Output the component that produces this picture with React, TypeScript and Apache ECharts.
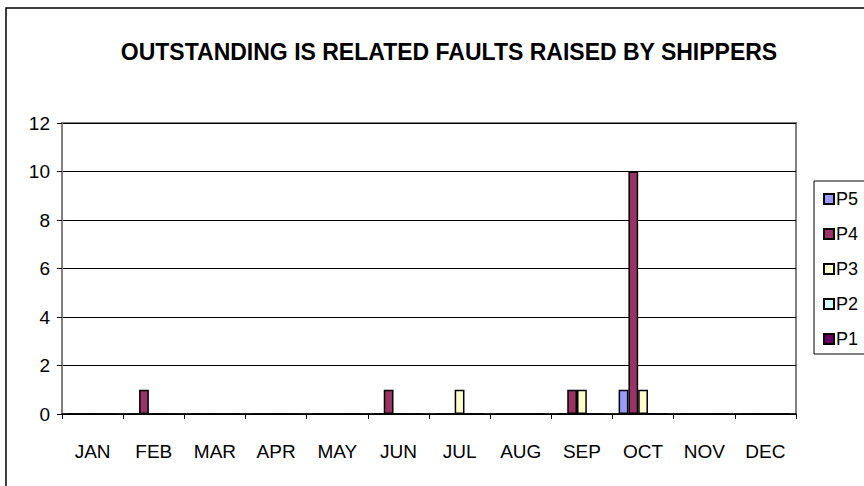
import React, { useEffect, useRef } from "react";
import * as echarts from "echarts";

const months = ["JAN", "FEB", "MAR", "APR", "MAY", "JUN", "JUL", "AUG", "SEP", "OCT", "NOV", "DEC"];
const seriesNames = ["P5", "P4", "P3", "P2", "P1"];
const seriesColors = ["#9999FF", "#993366", "#FFFFCC", "#CCFFFF", "#660066"];
const p5 = [0, 0, 0, 0, 0, 0, 0, 0, 0, 1, 0, 0];
const p4 = [0, 1, 0, 0, 0, 1, 0, 0, 1, 10, 0, 0];
const p3 = [0, 0, 0, 0, 0, 0, 1, 0, 1, 1, 0, 0];
const p2 = [0, 0, 0, 0, 0, 0, 0, 0, 0, 0, 0, 0];
const p1 = [0, 0, 0, 0, 0, 0, 0, 0, 0, 0, 0, 0];
const seriesData = [p5, p4, p3, p2, p1];
const yTicks = { min: 0, max: 12, interval: 2 };

const FONT = "'Liberation Sans', Arial, sans-serif";

export default function App() {
  const ref = useRef<HTMLDivElement>(null);
  useEffect(() => {
    if (!ref.current) return;
    const chart = echarts.init(ref.current, undefined, { renderer: "svg" });
    chart.setOption({
      animation: false,
      backgroundColor: "#ffffff",
      title: {
        text: "OUTSTANDING IS RELATED FAULTS RAISED BY SHIPPERS",
        left: 444,
        textAlign: "center",
        top: 35,
        textStyle: { fontFamily: FONT, fontSize: 23, fontWeight: "bold", color: "#000" },
      },
      grid: {
        left: 62,
        right: 68,
        top: 123,
        bottom: 72,
        show: true,
        borderColor: "#808080",
        borderWidth: 2,
        backgroundColor: "transparent",
      },
      legend: {
        orient: "vertical",
        left: 818,
        top: 185,
        itemWidth: 10,
        itemHeight: 10,
        itemGap: 17,
        icon: "rect",
        data: seriesNames,
        textStyle: { fontFamily: FONT, fontSize: 18, color: "#000", padding: [0, 0, 0, -3] },
      },
      xAxis: {
        type: "category",
        data: months,
        axisLine: { lineStyle: { color: "#000", width: 1.5 } },
        axisTick: { show: true, length: 5, lineStyle: { color: "#000" } },
        axisLabel: { fontFamily: FONT, fontSize: 19, color: "#000", margin: 28 },
      },
      yAxis: {
        type: "value",
        min: yTicks.min,
        max: yTicks.max,
        interval: yTicks.interval,
        axisLine: { show: true, lineStyle: { color: "#808080", width: 2 } },
        axisTick: { show: true, length: 5, lineStyle: { color: "#000" } },
        axisLabel: { fontFamily: FONT, fontSize: 19, color: "#000", margin: 12 },
        splitLine: { lineStyle: { color: "#000", width: 1 } },
      },
      series: seriesNames.map((name, i) => ({
        name,
        type: "bar",
        data: seriesData[i],
        barGap: "0%",
        barCategoryGap: "20%",
        itemStyle: { color: seriesColors[i], borderColor: "#000", borderWidth: 1.5 },
      })),
      graphic: [
        {
          type: "rect",
          shape: { x: 6, y: 8, width: 1000, height: 1000 },
          style: { fill: "none", stroke: "#000", lineWidth: 1.5 },
          silent: true,
        },
        {
          type: "rect",
          shape: { x: 814, y: 181, width: 100, height: 173 },
          style: { fill: "none", stroke: "#000", lineWidth: 1 },
          silent: true,
        },
      ],
    });
    return () => chart.dispose();
  }, []);
  return <div ref={ref} style={{ width: 864, height: 486, position: "absolute", left: 0, top: 0 }} />;
}
